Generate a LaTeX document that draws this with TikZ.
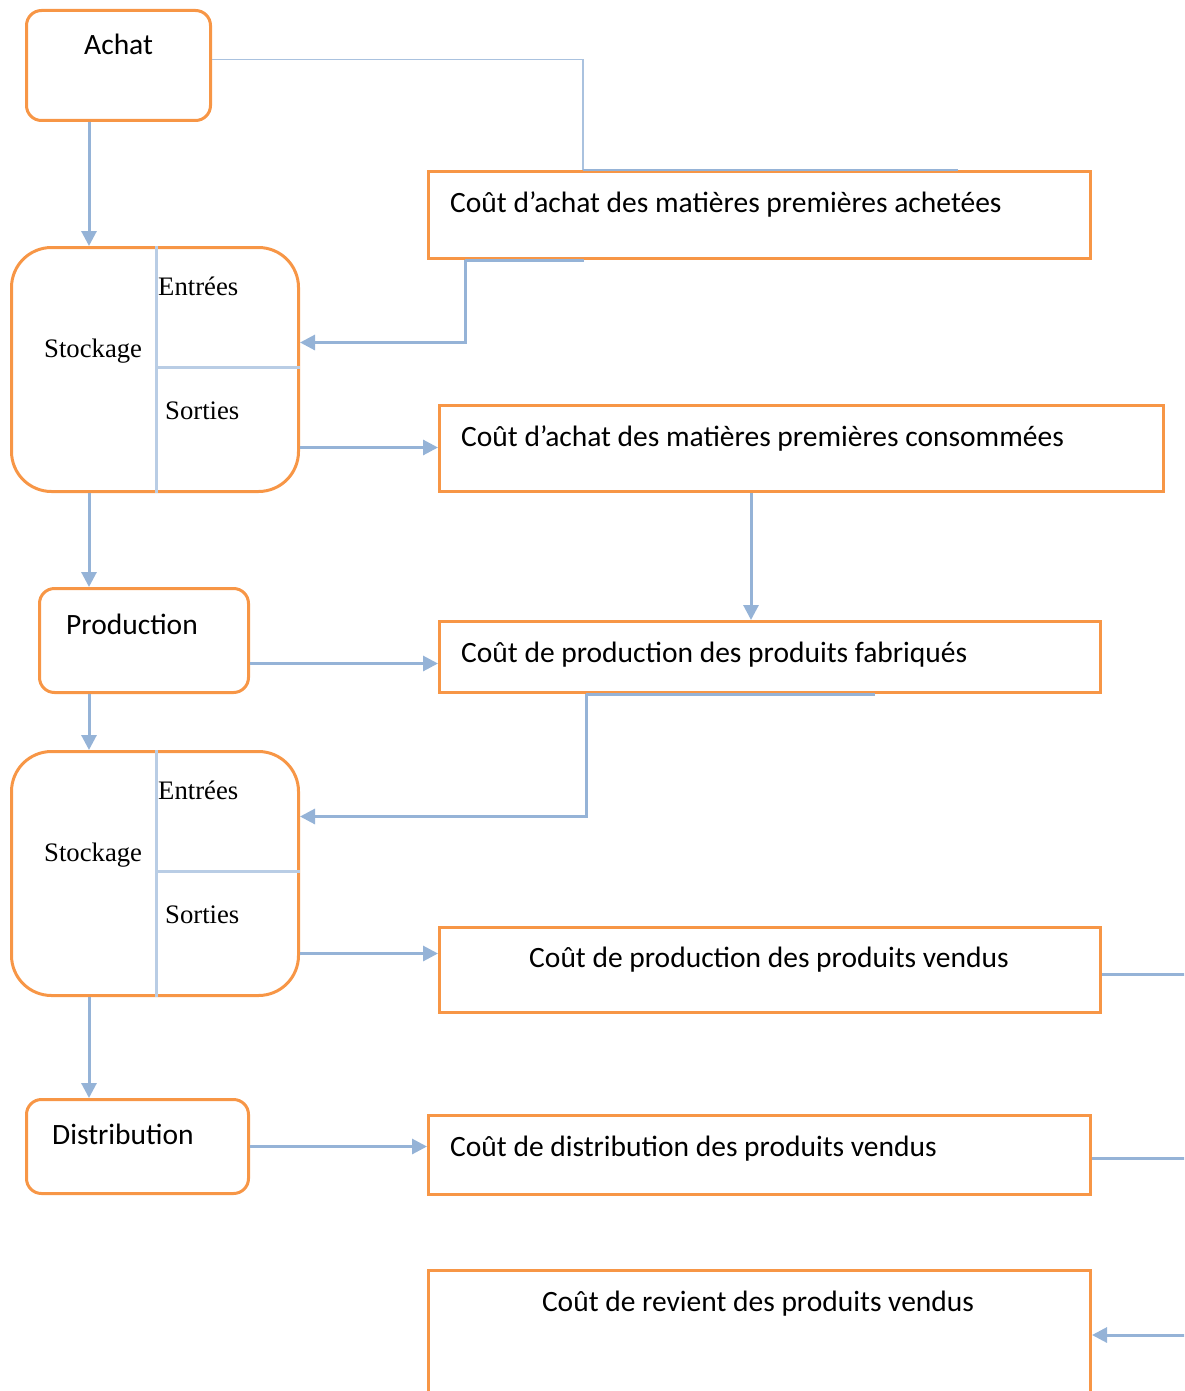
\documentclass[tikz,border=0pt]{standalone}
\usepackage{fontspec}
\setmainfont{Carlito}
\newfontfamily\timesfont{Liberation Serif}
\usepackage{tikz}
\usetikzlibrary{arrows.meta,positioning,calc}
\definecolor{boxorange}{RGB}{247,150,70}
\definecolor{flowblue}{RGB}{149,179,215}
\definecolor{splitblue}{RGB}{185,205,229}

\begin{document}
\begin{tikzpicture}[x=1pt, y=-1pt,
    phase/.style={draw=boxorange, line width=3pt, rounded corners=15pt,
        anchor=north west, inner sep=0pt},
    stock/.style={phase, rounded corners=40pt, minimum width=287pt, minimum height=244pt},
    cost/.style={draw=boxorange, line width=3pt, anchor=north west, inner sep=0pt},
    txt/.style={font=\fontsize{29.5}{34}\selectfont, inner sep=0pt},
    serif/.style={font=\timesfont\fontsize{26.7}{31}\selectfont, inner sep=0pt},
    arr/.style={-{Triangle[length=15pt,width=15pt]}, line width=3pt, flowblue},
    link/.style={line width=3pt, flowblue},
    thinlink/.style={line width=1.8pt, flowblue!80},
    split/.style={line width=3pt, splitblue}
]
    \clip (0,0) rectangle (1184,1391);
    % phases on the left
    \node[phase, minimum width=184pt, minimum height=110pt] (achat) at (25,9) {};
    \node[stock] (stock1) at (10,246) {};
    \node[phase, minimum width=209pt, minimum height=104pt] (prod) at (38,587) {};
    \node[stock] (stock2) at (10,750) {};
    \node[phase, minimum width=222pt, minimum height=94pt] (distrib) at (25,1098) {};
    \node[txt, anchor=base west] (achat-t) at ([shift={(59,46)}]achat.north west) {Achat};
    \node[txt, anchor=base west] (prod-t) at ([shift={(28,47)}]prod.north west) {Production};
    \node[txt, anchor=base west] (distrib-t) at ([shift={(27,46)}]distrib.north west) {Distribution};
    % stock boxes split into entries and exits
    \draw[split] ([xshift=146pt]stock1.north west) -- ([xshift=146pt]stock1.south west);
    \coordinate (s1mid) at ([shift={(146,121)}]stock1.north west);
    \draw[split] (s1mid) -- (s1mid -| stock1.east);
    \node[serif, anchor=base west] (s1-t) at ([shift={(34,111)}]stock1.north west) {Stockage};
    \node[serif, anchor=base west] (s1-in) at ([shift={(148,49)}]stock1.north west) {Entrées};
    \node[serif, anchor=base west] (s1-out) at ([shift={(155,173)}]stock1.north west) {Sorties};
    \draw[split] ([xshift=146pt]stock2.north west) -- ([xshift=146pt]stock2.south west);
    \coordinate (s2mid) at ([shift={(146,121)}]stock2.north west);
    \draw[split] (s2mid) -- (s2mid -| stock2.east);
    \node[serif, anchor=base west] (s2-t) at ([shift={(34,111)}]stock2.north west) {Stockage};
    \node[serif, anchor=base west] (s2-in) at ([shift={(148,49)}]stock2.north west) {Entrées};
    \node[serif, anchor=base west] (s2-out) at ([shift={(155,173)}]stock2.north west) {Sorties};
    % cost boxes on the right
    \node[cost, minimum width=662pt, minimum height=87pt] (achats) at (427,170) {};
    \node[cost, minimum width=724pt, minimum height=86pt] (consom) at (438,404) {};
    \node[cost, minimum width=661pt, minimum height=71pt] (fabri) at (438,620) {};
    \node[cost, minimum width=661pt, minimum height=85pt] (pvendus) at (438,926) {};
    \node[cost, minimum width=662pt, minimum height=79pt] (distv) at (427,1114) {};
    \node[cost, minimum width=662pt, minimum height=200pt] (revient) at (427,1269) {};
    \node[txt, anchor=base west] (achats-t) at ([shift={(23,42)}]achats.north west) {Coût d’achat des matières premières achetées};
    \node[txt, anchor=base west] (consom-t) at ([shift={(23,42)}]consom.north west) {Coût d’achat des matières premières consommées};
    \node[txt, anchor=base west] (fabri-t) at ([shift={(23,42)}]fabri.north west) {Coût de production des produits fabriqués};
    \node[txt, anchor=base] (pvendus-t) at ([shift={(331,41)}]pvendus.north west) {Coût de production des produits vendus};
    \node[txt, anchor=base west] (distv-t) at ([shift={(23,42)}]distv.north west) {Coût de distribution des produits vendus};
    \node[txt, anchor=base] (revient-t) at ([shift={(331,42)}]revient.north west) {Coût de revient des produits vendus};
    % flow down the left
    \coordinate (spine) at (89,0);
    \draw[arr] (achat.south -| spine) -- (stock1.north -| spine);
    \draw[arr] (stock1.south -| spine) -- (prod.north -| spine);
    \draw[arr] (prod.south -| spine) -- (stock2.north -| spine);
    \draw[arr] (stock2.south -| spine) -- (distrib.north -| spine);
    % links between phases and costs
    \draw[thinlink] ([yshift=6pt]achat.east) -| ([xshift=156pt]achats.north west);
    \draw[flowblue, line width=2.5pt] ([xshift=156pt]achats.north west) -- ([xshift=531pt]achats.north west);
    \draw[link] ([xshift=38pt]achats.south west) -- ([xshift=157pt]achats.south west);
    \draw[arr] ([xshift=38pt]achats.south west) |- ([yshift=27pt]stock1.east);
    \draw[arr] ([yshift=-78pt]stock1.east) coordinate (p1) -- (p1 -| consom.west);
    \draw[arr] ([xshift=313pt]consom.south west) -- ([xshift=313pt]fabri.north west);
    \draw[arr] ([yshift=-23pt]prod.east) coordinate (p2) -- (p2 -| fabri.west);
    \draw[link] ([xshift=148pt]fabri.south west) -- ([xshift=437pt]fabri.south west);
    \draw[arr] ([xshift=148pt]fabri.south west) |- ([yshift=57pt]stock2.east);
    \draw[arr] ([yshift=-80pt]stock2.east) coordinate (p3) -- (p3 -| pvendus.west);
    \draw[arr] (distrib.east) -- (distrib.east -| distv.west);
    % links leaving to the right edge
    \coordinate (edge) at (1200,1335);
    \draw[link] ([yshift=-4pt]pvendus.east) coordinate (p4) -- (p4 -| edge);
    \draw[link] ([yshift=-3pt]distv.east) coordinate (p5) -- (p5 -| edge);
    \draw[arr] (edge) -- (edge -| revient.east);
\end{tikzpicture}
\end{document}
